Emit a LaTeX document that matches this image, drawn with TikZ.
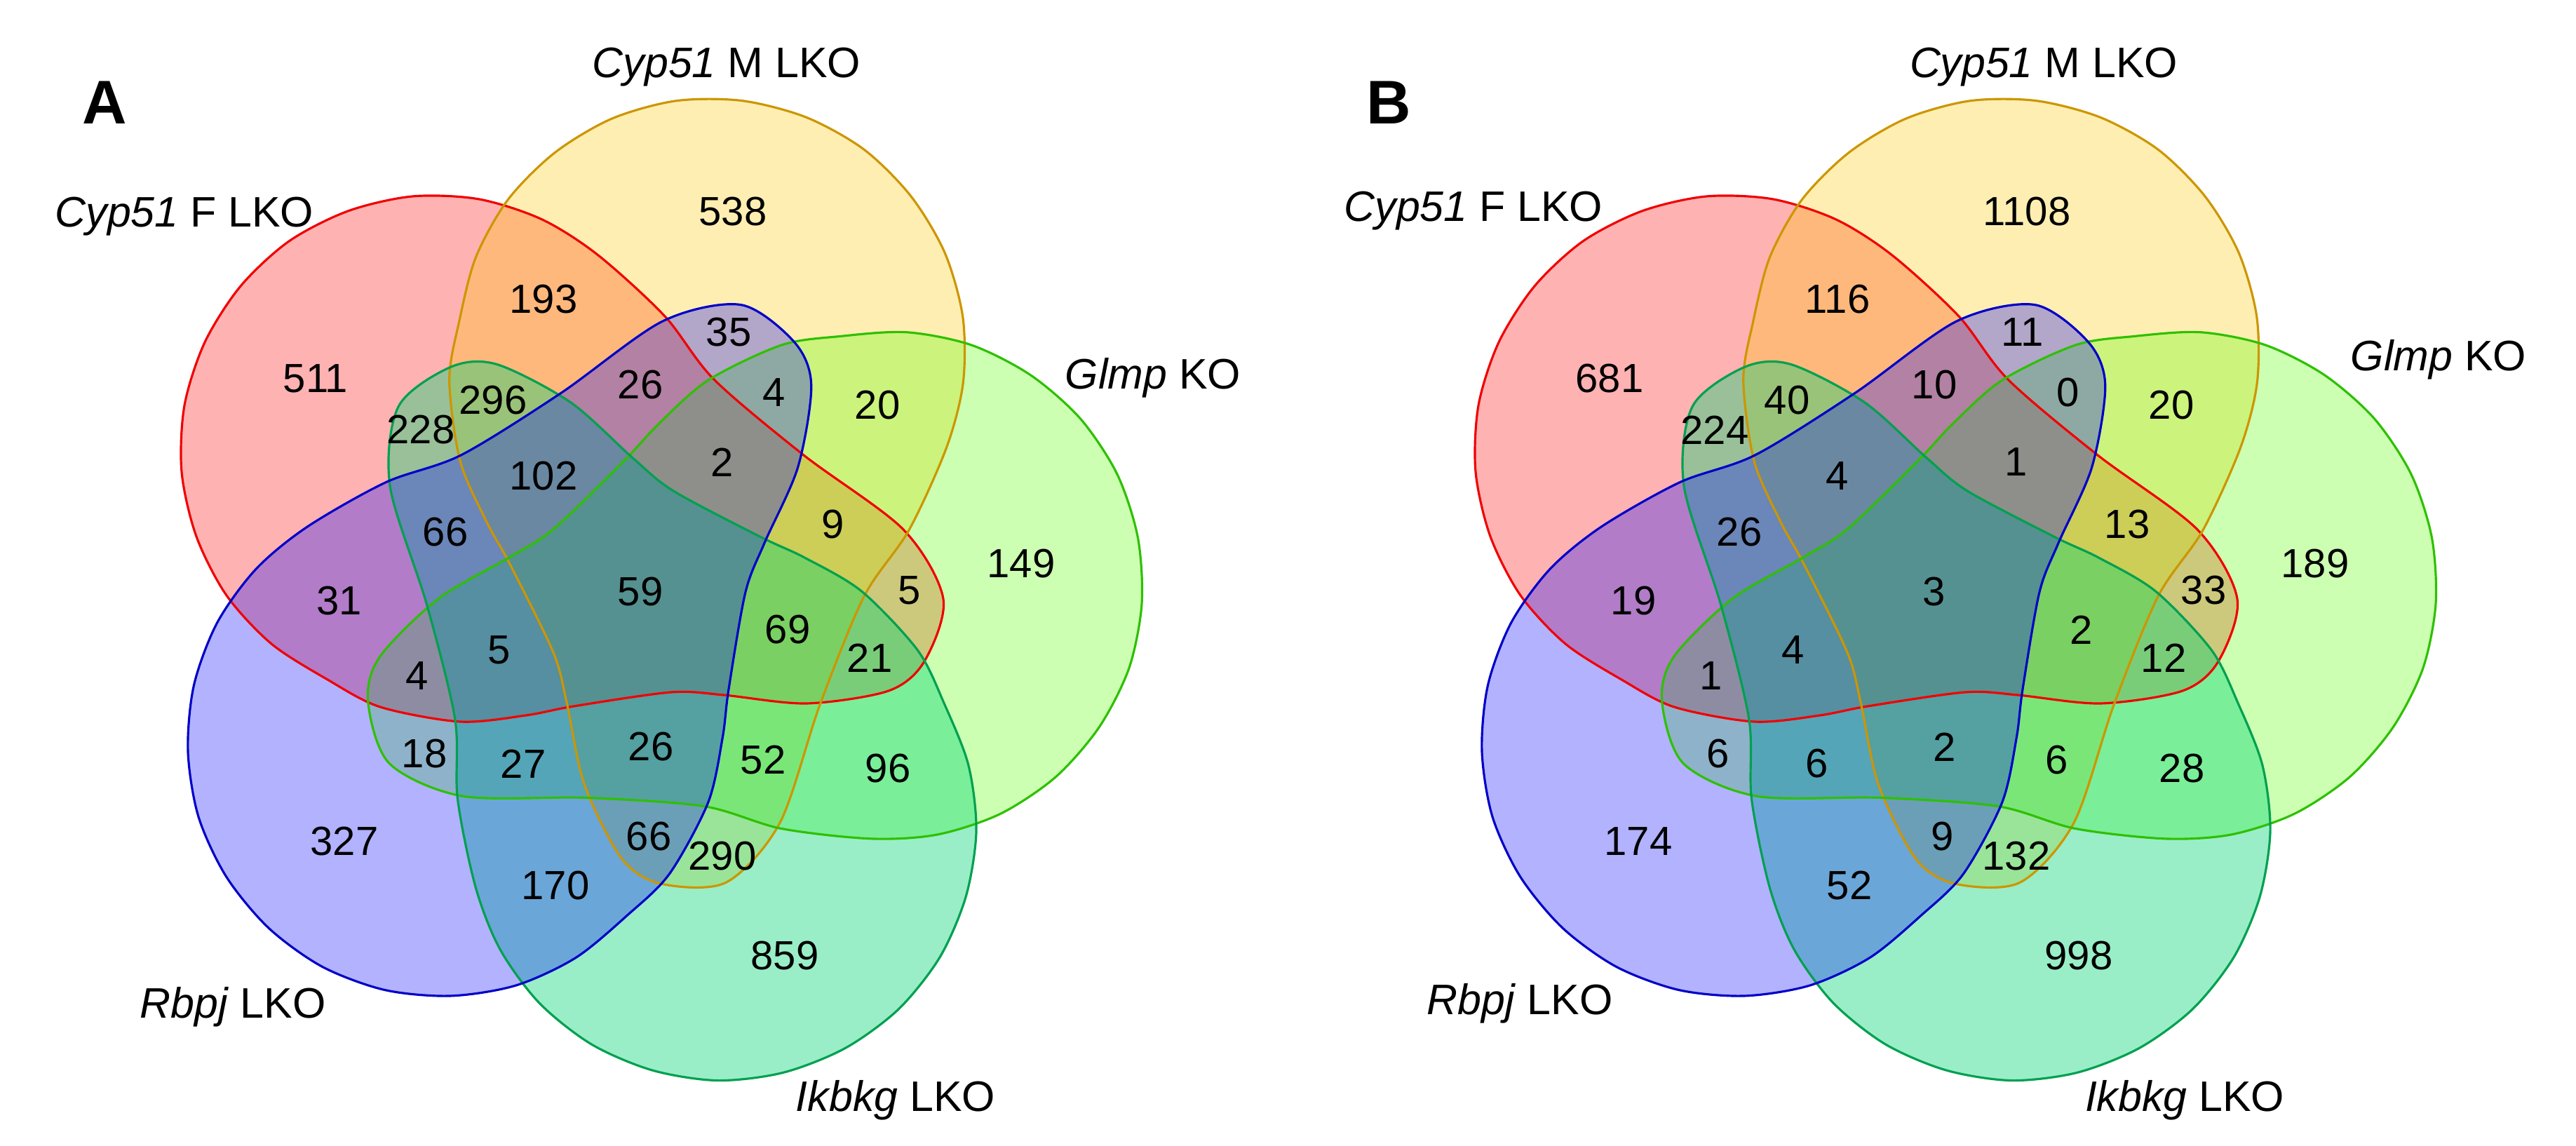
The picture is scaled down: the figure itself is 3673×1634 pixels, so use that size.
\documentclass[tikz,border=0pt]{standalone}
\usepackage{fontspec}
\setmainfont{Liberation Sans}
\definecolor{setF}{HTML}{FF0000}
\definecolor{lineF}{HTML}{F00000}
\definecolor{setM}{HTML}{FFC800}
\definecolor{lineM}{HTML}{CC9600}
\definecolor{setG}{HTML}{55FF00}
\definecolor{lineG}{HTML}{2EC000}
\definecolor{setI}{HTML}{00D475}
\definecolor{lineI}{HTML}{00A050}
\definecolor{setR}{HTML}{0000FF}
\definecolor{lineR}{HTML}{0000C8}
% one set: round head and a lobe that runs under the centre
\newcommand{\vennlobe}{plot[smooth cycle] coordinates {(-59,479) (-139,530) (-229,559) (-324,563)
  (-416,542) (-500,499) (-569,435) (-620,355) (-649,265) (-653,170) (-632,78) (-589,-6) (-525,-75)
  (-445,-126) (-370,-165) (-256,-186) (-162,-177) (-94,-164) (45,-144) (120,-148) (238,-160)
  (355,-142) (406,-100) (433,-11) (376,88) (234,194) (106,302) (36,392)}}

\begin{document}
\begin{tikzpicture}[x=.01cm, y=.01cm,
  num/.style={inner sep=0pt, font=\fontsize{16.5}{18}\selectfont},
  lab/.style={inner sep=0pt, anchor=base, font=\fontsize{17.3}{20}\selectfont},
  tag/.style={inner sep=0pt, anchor=base, font=\fontsize{25}{28}\selectfont\bfseries}]
\useasboundingbox (0,0) rectangle (3673,1634);
% the two diagrams, same shapes
\foreach \cx in {912,2757} {
 \begin{scope}[shift={(\cx,791)}]
 \foreach \ang/\col/\op in {0/setF/.3, -72/setM/.3, -144/setG/.3, 144/setI/.4, 72/setR/.3}
  \fill[rotate=\ang, fill=\col, fill opacity=\op] \vennlobe;
 \foreach \ang/\col in {0/lineF, -72/lineM, -144/lineG, 144/lineI, 72/lineR}
  \draw[rotate=\ang, draw=\col, line width=.9pt] \vennlobe;
 \end{scope}
}
\begin{scope}[shift={(912,791)}]
% region counts: x/y/panel A/panel B
\foreach \px/\py/\na/\nb [count=\k] in {133/541/538/1108, -137/416/193/116, -462/303/511/681,
  127/369/35/11, 1/294/26/10, 192/283/4/0, 339/265/20/20, -209/272/296/40, -312/230/228/224,
  118/184/2/1, -137/164/102/4, 276/95/9/13, -277/84/66/26, 544/39/149/189, 385/1/5/33,
  1/-1/59/3, -428/-14/31/19, 211/-55/69/2, -200/-84/5/4, 328/-95/21/12, -317/-121/4/1,
  -307/-232/18/6, -166/-246/27/6, 16/-222/26/2, 176/-241/52/6, 354/-253/96/28,
  -421/-357/327/174, 13/-350/66/9, 118/-378/290/132, -120/-420/170/52, 207/-520/859/998} {
 \node[num] (a\k) at (\px,\py) {\na};
 \node[num] (b\k) at (\px+1845,\py) {\nb};
}
% set names
\node[tag] (tagA) at (-763,666) {A};
\node[lab] (setFa) at (-649,519) {\textit{Cyp51} F LKO};
\node[lab] (setMa) at (124,732) {\textit{Cyp51} M LKO};
\node[lab] (setGa) at (732,288) {\textit{Glmp} KO};
\node[lab] (setRa) at (-580,-609) {\textit{Rbpj} LKO};
\node[lab] (setIa) at (365,-742) {\textit{Ikbkg} LKO};
\node[tag] (tagB) at (1068,666) {B};
\node[lab] (setFb) at (1189,527) {\textit{Cyp51} F LKO};
\node[lab] (setMb) at (2002,732) {\textit{Cyp51} M LKO};
\node[lab] (setGb) at (2565,314) {\textit{Glmp} KO};
\node[lab] (setRb) at (1255,-604) {\textit{Rbpj} LKO};
\node[lab] (setIb) at (2203,-742) {\textit{Ikbkg} LKO};
\end{scope}
\end{tikzpicture}
\end{document}
